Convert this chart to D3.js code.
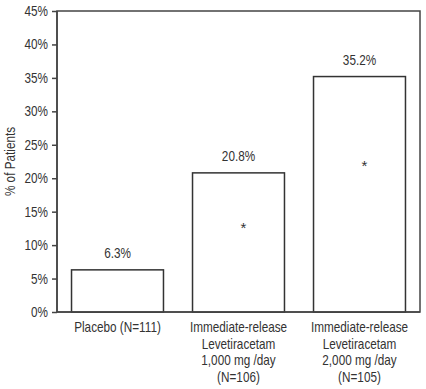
<!DOCTYPE html>
<meta charset="utf-8">
<style>
body { margin: 0; background: #fff; }
svg text { font-family: "Liberation Sans", Arial, sans-serif; fill: #333; font-size: 14px; }
.bar { fill: #fff; stroke: #333; stroke-width: 1.5; }
.axis path, .axis line { stroke: #444; stroke-width: 1.5; }
.frame { fill: none; stroke: #444; stroke-width: 1.5; }
</style>
<body></body>
<script src="https://cdn.jsdelivr.net/npm/d3@7"></script>
<script>
// data
var groups = ["placebo", "lev1000", "lev2000"];
var groupLabels = [
  ["Placebo (N=111)"],
  ["Immediate-release", "Levetiracetam", "1,000 mg /day", "(N=106)"],
  ["Immediate-release", "Levetiracetam", "2,000 mg /day", "(N=105)"]
];
var values = [6.3, 20.8, 35.2];
var significant = [false, true, true];
var yTicks = [0, 5, 10, 15, 20, 25, 30, 35, 40, 45];

var narrowK = 0.84; // squeeze text horizontally, the source used a condensed face

var margin = {top: 11, right: 6, bottom: 77, left: 57};
var width = 426 - margin.left - margin.right,
    height = 389 - margin.top - margin.bottom;

var svg = d3.select("body").append("svg")
    .attr("width", 426)
    .attr("height", 389);

var g = svg.append("g")
    .attr("transform", "translate(" + margin.left + "," + margin.top + ")");

var x = d3.scaleBand()
    .domain(groups)
    .range([0, width])
    .paddingInner(0.24)
    .paddingOuter(0.12);

var y = d3.scaleLinear()
    .domain([0, 45])
    .range([height, 0]);

function mid(i) { return x(groups[i]) + x.bandwidth() / 2; }

// box around plot (top + right)
g.append("rect")
    .attr("class", "frame")
    .attr("x", 0).attr("y", 0)
    .attr("width", width).attr("height", height);

// bars
g.selectAll(".bar")
    .data(values)
    .enter().append("rect")
    .attr("class", "bar")
    .attr("x", function(d, i) { return x(groups[i]); })
    .attr("y", function(d) { return y(d); })
    .attr("width", x.bandwidth())
    .attr("height", function(d) { return height - y(d); });

// value labels
g.selectAll(".val")
    .data(values)
    .enter().append("text")
    .attr("class", "val")
    .attr("text-anchor", "middle")
    .attr("transform", function(d, i) {
        return "translate(" + mid(i) + "," + (y(d) - 12) + ") scale(" + narrowK + ",1)";
    })
    .text(function(d) { return d.toFixed(1) + "%"; });

// significance stars
g.selectAll(".star")
    .data(d3.range(values.length).filter(function(i) { return significant[i]; }))
    .enter().append("text")
    .attr("class", "star")
    .attr("text-anchor", "middle")
    .style("font-size", "15px")
    .attr("x", function(i) { return mid(i) + 5; })
    .attr("y", function(i) { return y(values[i] * 0.64) + 10; })
    .text("*");

// y axis
var yAxis = g.append("g")
    .attr("class", "axis")
    .call(d3.axisLeft(y)
        .tickValues(yTicks)
        .tickSize(5)
        .tickFormat(function(d) { return d + "%"; }));
yAxis.select(".domain").attr("d", "M0," + height + "V0");
yAxis.selectAll(".tick text")
    .attr("x", null)
    .attr("fill", "#333")
    .attr("transform", "translate(-9,0) scale(" + narrowK + ",1)");

// x axis line
g.append("line")
    .attr("class", "frame")
    .attr("x1", 0).attr("x2", width)
    .attr("y1", height).attr("y2", height);

// category labels
var cat = g.selectAll(".cat")
    .data(groupLabels)
    .enter().append("text")
    .attr("class", "cat")
    .attr("text-anchor", "middle")
    .attr("transform", function(d, i) {
        return "translate(" + mid(i) + "," + (height + 20) + ") scale(" + narrowK + ",1)";
    });
cat.selectAll("tspan")
    .data(function(d) { return d; })
    .enter().append("tspan")
    .attr("x", 0)
    .attr("y", function(d, i) { return i * 16.7; })
    .text(function(d) { return d; });

// y axis title
svg.append("text")
    .attr("transform", "translate(15," + (margin.top + height / 2) + ") rotate(-90) scale(" + narrowK + ",1)")
    .attr("text-anchor", "middle")
    .text("% of Patients");
</script>
